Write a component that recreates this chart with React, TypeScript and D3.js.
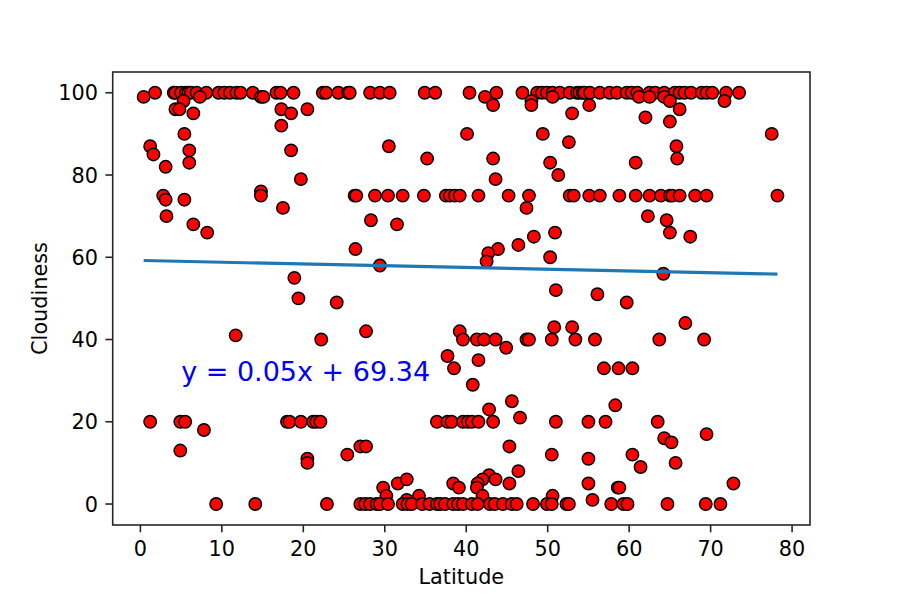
import React from "react";
import * as d3 from "d3";

// Latitude / Cloudiness pairs
const latitude: number[] = [
  // cloudiness 100 band
  1.8, 4.1, 4.3, 5.0, 5.6, 5.9, 6.2, 6.9, 8.1, 9.6, 10.3, 11.0, 11.8, 12.3, 13.8, 16.7, 17.2, 18.8, 22.4, 22.8,
  24.3, 25.5, 25.7, 28.2, 29.4, 30.6, 34.9, 36.2, 40.4, 43.7, 46.9, 48.7, 49.3, 49.9, 50.6, 51.5, 52.7, 53.6, 53.9, 54.3,
  54.5, 55.2, 56.4, 57.6, 58.5, 59.7, 60.3, 61.0, 62.5, 63.2, 64.3, 65.6, 66.2, 66.8, 67.6, 68.9, 69.5, 70.2, 71.9, 73.5,
  // upper values
  0.4, 7.3, 14.8, 15.1, 42.3, 50.6, 61.2, 62.5, 64.3, 5.3, 48.0, 65.0, 71.7, 43.3, 48.0, 55.1, 4.3, 4.8, 17.3, 20.5,
  66.2, 6.5, 18.5, 53.0, 62.0, 65.0, 17.3, 5.4, 40.1, 49.4, 77.5, 52.6, 1.2, 30.5, 65.8, 1.6, 6.0, 18.5, 35.2, 43.3,
  65.9, 6.0, 50.3, 60.8, 3.1, 51.3, 19.7, 43.6, 14.8, 47.4, 17.5, 62.3, 3.2, 64.6, 28.3, 31.5, 6.5, 8.2, 65.0, 50.9,
  67.5, 48.3, 46.4, 26.4, 43.9, 42.7, 50.3, 42.5, 29.4, 64.2, 18.9, 51.0, 56.1, 19.4, 24.1, 59.7, 66.9, 50.8, 53.0, 11.7,
  27.7, 39.2, 22.2, 37.7, 38.5,
  // cloudiness 75 band
  2.8, 3.1, 5.4, 14.8, 26.3, 26.5, 28.8, 30.4, 32.2, 34.8, 37.5, 38.0, 38.6, 39.2, 41.5, 45.2, 47.7, 52.7, 53.2, 55.1,
  56.4, 58.8, 60.8, 62.5, 63.9, 65.0, 65.3, 66.2, 68.1, 69.5, 78.2,
  // around 40 and below
  39.6, 41.3, 42.2, 43.6, 44.9, 47.4, 47.7, 50.5, 53.4, 55.8, 63.7, 69.2, 41.5, 56.9, 58.7, 60.4, 40.8, 45.6, 42.8, 58.3,
  // around 20
  1.2, 4.9, 5.5, 7.8, 4.9, 18.0, 18.3, 19.7, 21.2, 21.6, 22.1, 36.4, 37.7, 38.2, 39.6, 40.2, 40.7, 41.5, 43.3, 46.6,
  51.0, 55.0, 57.1, 63.5, 64.3, 65.2, 69.5, 45.3, 50.5, 55.0, 60.4, 61.4, 65.7, 46.4, 20.5, 20.5, 25.4, 27.0, 27.7,
  // low values
  42.8, 42.0, 43.6, 41.4, 38.4, 31.6, 32.7, 45.3, 29.8, 39.1, 41.3, 55.0, 58.6, 58.8, 72.8, 30.2, 34.2, 42.0, 50.6, 32.7,
  55.5,
  // cloudiness 0 band
  9.3, 14.1, 22.9, 27.0, 27.6, 28.2, 29.0, 29.4, 30.4, 32.2, 32.8, 33.3, 34.6, 35.5, 36.4, 36.8, 37.4, 38.4, 39.0, 39.6,
  40.7, 41.4, 42.9, 43.5, 44.5, 45.6, 46.2, 48.2, 49.9, 50.5, 52.3, 52.6, 57.8, 59.3, 59.8, 64.7, 69.4, 71.2,
];

const cloudiness: number[] = [
  100, 100, 100, 100, 100, 100, 100, 100, 100, 100, 100, 100, 100, 100, 100, 100, 100, 100, 100, 100,
  100, 100, 100, 100, 100, 100, 100, 100, 100, 100, 100, 100, 100, 100, 100, 100, 100, 100, 100, 100,
  100, 100, 100, 100, 100, 100, 100, 100, 100, 100, 100, 100, 100, 100, 100, 100, 100, 100, 100, 100,
  99, 99, 99, 99, 99, 99, 99, 99, 99, 98, 98, 98, 98, 97, 97, 97, 96, 96, 96, 96,
  96, 95, 95, 95, 94, 93, 92, 90, 90, 90, 90, 88, 87, 87, 87, 85, 86, 86, 84, 84,
  84, 83, 83, 83, 82, 80, 79, 79, 76, 72, 72, 70, 70, 69, 69, 68, 68, 66, 66, 66,
  65, 65, 63, 62, 62, 61, 60, 59, 58, 56, 55, 52, 51, 50, 49, 49, 44, 43, 43, 41,
  42, 42, 40, 36, 33,
  75, 74, 74, 75, 75, 75, 75, 75, 75, 75, 75, 75, 75, 75, 75, 75, 75, 75, 75, 75,
  75, 75, 75, 75, 75, 75, 75, 75, 75, 75, 75,
  40, 40, 40, 40, 38, 40, 40, 40, 40, 40, 40, 40, 35, 33, 33, 33, 29, 25, 23, 24,
  20, 20, 20, 18, 13, 20, 20, 20, 20, 20, 20, 20, 20, 20, 20, 20, 20, 20, 20, 21,
  20, 20, 20, 20, 16, 15, 17, 14, 12, 11, 12, 9, 10, 8, 11, 10, 12, 14, 14,
  7, 6, 6, 5, 5, 5, 6, 5, 4, 4, 4, 5, 4, 4, 5, 2, 2, 2, 2, 1,
  1,
  0, 0, 0, 0, 0, 0, 0, 0, 0, 0, 0, 0, 0, 0, 0, 0, 0, 0, 0, 0,
  0, 0, 0, 0, 0, 0, 0, 0, 0, 0, 0, 0, 0, 0, 0, 0, 0, 0,
];

const xTicks: number[] = [0, 10, 20, 30, 40, 50, 60, 70, 80];
const yTicks: number[] = [0, 20, 40, 60, 80, 100];

// fitted line as drawn in the reference (label text differs from drawn line)
const lineSlope = -0.0424;
const lineIntercept = 59.22;
const equationText = "y = 0.05x + 69.34";
const equationPos: [number, number] = [5.0, 30];

const W = 900;
const H = 600;
const M = { left: 112.7, right: 810, top: 72, bottom: 525 };
const FONT = "'DejaVu Sans', sans-serif";

export default function App() {
  const x = d3.scaleLinear().domain([-3.4, 82.2]).range([M.left, M.right]);
  const y = d3.scaleLinear().domain([-5.1, 105.05]).range([M.bottom, M.top]);

  const points = latitude.map((lat, i) => ({ lat, c: cloudiness[i] }));
  const [xmin, xmax] = d3.extent(latitude) as [number, number];
  const linePath = d3.line<number>()
    .x((d) => x(d))
    .y((d) => y(lineSlope * d + lineIntercept))([xmin, xmax]);

  const tickLen = 7.3;
  const axisColor = "#262626";

  return (
    <svg width={W} height={H} style={{ position: "absolute", left: 0, top: 0, background: "#fff" }}>
      <rect x={0} y={0} width={W} height={H} fill="#fff" />
      <g clipPath="url(#plotclip)">
        <defs>
          <clipPath id="plotclip">
            <rect x={M.left} y={M.top} width={M.right - M.left} height={M.bottom - M.top} />
          </clipPath>
        </defs>
        {points.map((p, i) => (
          <circle key={i} cx={x(p.lat)} cy={y(p.c)} r={6.2} fill="#ff0000" stroke="#000" strokeWidth={1.5} />
        ))}
        <path d={linePath || ""} fill="none" stroke="#1f77b4" strokeWidth={3.1} />
      </g>
      <text x={x(equationPos[0])} y={y(equationPos[1])} fill="#0000ff" fontFamily={FONT} fontSize={27}>
        {equationText}
      </text>
      {/* spines */}
      <rect x={M.left} y={M.top} width={M.right - M.left} height={M.bottom - M.top} fill="none" stroke={axisColor} strokeWidth={1.6} />
      {/* x ticks */}
      {xTicks.map((t) => (
        <g key={"x" + t}>
          <line x1={x(t)} x2={x(t)} y1={M.bottom} y2={M.bottom + tickLen} stroke={axisColor} strokeWidth={1.6} />
          <text x={x(t)} y={556} textAnchor="middle" fontFamily={FONT} fontSize={20.8} fill="#000">{t}</text>
        </g>
      ))}
      {/* y ticks */}
      {yTicks.map((t) => (
        <g key={"y" + t}>
          <line x1={M.left - tickLen} x2={M.left} y1={y(t)} y2={y(t)} stroke={axisColor} strokeWidth={1.6} />
          <text x={98} y={y(t) + 7.6} textAnchor="end" fontFamily={FONT} fontSize={20.8} fill="#000">{t}</text>
        </g>
      ))}
      <text x={(M.left + M.right) / 2} y={584} textAnchor="middle" fontFamily={FONT} fontSize={20.8} fill="#000">Latitude</text>
      <text transform={`translate(47,${(M.top + M.bottom) / 2}) rotate(-90)`} textAnchor="middle" fontFamily={FONT} fontSize={20.8} fill="#000">Cloudiness</text>
    </svg>
  );
}
